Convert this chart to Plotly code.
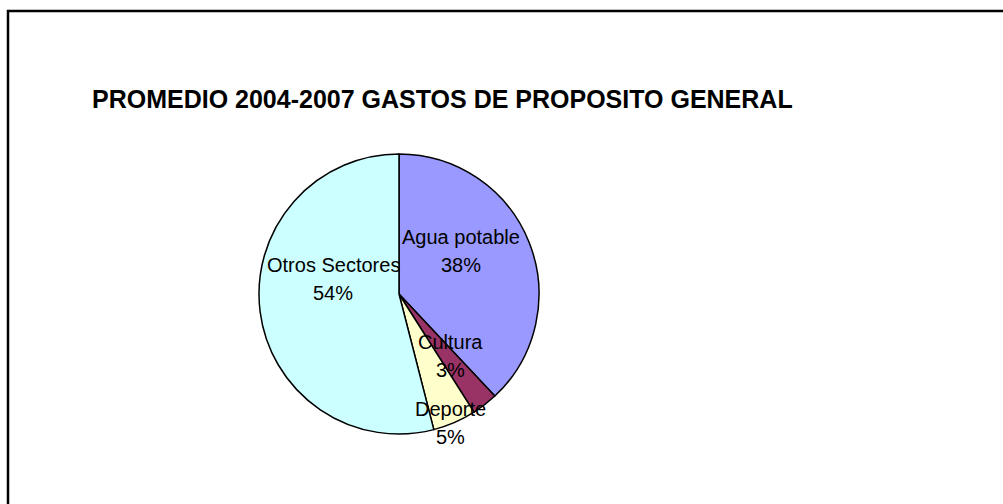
import plotly.graph_objects as go

# promedio 2004-2007, gastos de proposito general (%)
sectores = ['Agua potable', 'Cultura', 'Deporte', 'Otros Sectores']
porcentajes = [38, 3, 5, 54]
colores = ['#9999FF', '#993366', '#FFFFCC', '#CCFFFF']

titulo = 'PROMEDIO 2004-2007 GASTOS DE PROPOSITO GENERAL'

W, H = 1003, 504
cx, cy, r = 399, 294, 140   # pie centre / radius in pixels

# Excel "best fit" label spots (pixel centres of name line), same order as sectores
pos_etiquetas = [(461, 237), (450, 342), (450, 409), (333, 265)]
salto = 28  # gap between name and percent lines

fuente = 'Arial, Liberation Sans'

fig = go.Figure()

fig.add_trace(go.Pie(
    labels=sectores,
    values=porcentajes,
    sort=False,
    direction='clockwise',
    rotation=0,
    marker=dict(colors=colores, line=dict(color='black', width=1.5)),
    textinfo='none',
    hoverinfo='label+percent',
    showlegend=False,
    domain=dict(x=[(cx - r) / W, (cx + r) / W],
                y=[(H - cy - r) / H, (H - cy + r) / H]),
))

total = sum(porcentajes)
for nombre, valor, (px, py) in zip(sectores, porcentajes, pos_etiquetas):
    pct = f'{round(valor / total * 100)}%'
    for txt, yy in [(nombre, py), (pct, py + salto)]:
        fig.add_annotation(text=txt, xref='paper', yref='paper',
                           x=px / W, y=1 - yy / H,
                           xanchor='center', yanchor='middle',
                           showarrow=False,
                           font=dict(family=fuente, size=20, color='black'))

fig.update_layout(
    width=W, height=H,
    margin=dict(l=0, r=0, t=0, b=0),
    paper_bgcolor='white',
    plot_bgcolor='white',
    title=dict(text='<b>' + titulo + '</b>',
               font=dict(family=fuente, size=25, color='black'),
               x=92 / W, xanchor='left', xref='paper',
               y=1 - 99 / H, yanchor='middle', yref='paper'),
)

# chart area border (only top and left visible in the frame)
fig.add_shape(type='rect', xref='paper', yref='paper',
              x0=8 / W, x1=1.05, y0=-0.05, y1=1 - 11 / H,
              line=dict(color='black', width=2.5), fillcolor='rgba(0,0,0,0)')

fig.write_html('out.html', config={'displayModeBar': False},
               post_script="document.body.style.margin='0';")
